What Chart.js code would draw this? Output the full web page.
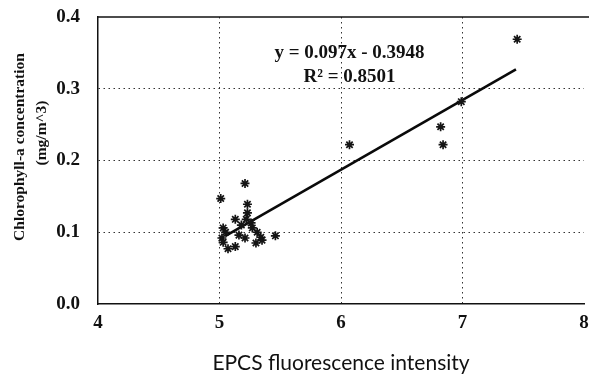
<!DOCTYPE html>
<html>
<head>
<meta charset="utf-8">
<script src="https://cdn.jsdelivr.net/npm/chart.js@4.4.1/dist/chart.umd.min.js"></script>
<style>
  html, body { margin: 0; padding: 0; background: #fff; overflow: hidden; }
  #wrap { width: 600px; height: 376px; }
</style>
</head>
<body>
<div id="wrap"><canvas id="chart" width="600" height="376"></canvas></div>
<script>
// EPCS fluorescence vs chlorophyll-a samples
const epcsX = [5.01, 5.21, 5.13, 5.23, 5.23, 5.22, 5.03, 5.05, 5.02, 5.03, 5.07, 5.13, 5.16,
  5.21, 5.18, 5.26, 5.27, 5.31, 5.34, 5.35, 5.30, 5.46, 6.07, 6.82, 6.84, 6.99, 7.45];
const chlY = [0.147, 0.168, 0.118, 0.139, 0.127, 0.118, 0.106, 0.100, 0.092, 0.086, 0.077, 0.080, 0.096,
  0.092, 0.110, 0.113, 0.106, 0.100, 0.093, 0.089, 0.085, 0.095, 0.222, 0.247, 0.222, 0.282, 0.369];

// linear fit endpoints
const trendX = [5.05, 7.44];
const trendY = [0.095, 0.327];

const xTicks = [4, 5, 6, 7, 8];
const yTicks = [0.0, 0.1, 0.2, 0.3, 0.4];

const fitLabel = "y = 0.097x - 0.3948";
const r2Label = "R\u00B2 = 0.8501";
const yTitle = ["Chlorophyll-a concentration", "(mg/m^3)"];
const xTitle = "EPCS fluorescence intensity";

const serif = "'Liberation Serif', 'Times New Roman', serif";

const extrasPlugin = {
  id: "extras",
  afterDraw(chart) {
    const { ctx, chartArea, scales } = chart;
    ctx.save();
    // top frame line
    ctx.strokeStyle = "#111";
    ctx.lineWidth = 1.5;
    ctx.beginPath();
    ctx.moveTo(chartArea.left, chartArea.top);
    ctx.lineTo(chart.width, chartArea.top);
    ctx.stroke();

    // fit equation
    ctx.fillStyle = "#111";
    ctx.font = "bold 19px " + serif;
    ctx.textAlign = "center";
    ctx.textBaseline = "middle";
    const cx = scales.x.getPixelForValue(6.07);
    ctx.fillText(fitLabel, cx, scales.y.getPixelForValue(0.35));
    ctx.fillText(r2Label, cx, scales.y.getPixelForValue(0.316));

    // y axis title, two rotated lines
    ctx.font = "bold 15.5px " + serif;
    ctx.translate(20, 147);
    ctx.rotate(-Math.PI / 2);
    ctx.fillText(yTitle[0], 0, 0);
    ctx.fillText(yTitle[1], 14, 22);
    ctx.restore();
  },
};

const hideEnds = (vals) => (c) =>
  c.tick && (c.tick.value === vals[0] || c.tick.value === vals[vals.length - 1])
    ? "rgba(0,0,0,0)" : "#333";

new Chart(document.getElementById("chart"), {
  type: "scatter",
  data: {
    datasets: [
      {
        label: "samples",
        data: epcsX.map((x, i) => ({ x, y: chlY[i] })),
        pointStyle: "star",
        radius: 4.5,
        borderWidth: 1.7,
        borderColor: "#151515",
        backgroundColor: "#151515",
      },
      {
        label: "fit",
        type: "line",
        data: trendX.map((x, i) => ({ x, y: trendY[i] })),
        borderColor: "#0a0a0a",
        borderWidth: 2.6,
        pointRadius: 0,
        fill: false,
      },
    ],
  },
  options: {
    responsive: false,
    animation: false,
    layout: { padding: { left: 0, right: 16, top: 17, bottom: 0 } },
    plugins: {
      legend: { display: false },
      tooltip: { enabled: false },
    },
    scales: {
      x: {
        type: "linear",
        min: 4,
        max: 8,
        afterBuildTicks: (s) => { s.ticks = xTicks.map((v) => ({ value: v })); },
        afterFit: (s) => { s.height = 72; s.paddingRight = 0; s.paddingLeft = 0; },
        grid: { color: hideEnds(xTicks), lineWidth: 1, drawTicks: false },
        border: { display: true, color: "#111", width: 1.5, dash: [1.5, 3.5] },
        ticks: {
          padding: 8,
          color: "#111",
          font: { family: serif, size: 19, weight: "bold" },
          callback: (v) => String(v),
        },
        title: {
          display: true,
          text: xTitle,
          color: "#111",
          font: { family: "Lato, 'Open Sans', sans-serif", size: 21 },
          padding: { top: 10, bottom: 0 },
        },
      },
      y: {
        min: 0,
        max: 0.4,
        afterBuildTicks: (s) => { s.ticks = yTicks.map((v) => ({ value: v })); },
        afterFit: (s) => { s.width = 98; s.paddingTop = 0; s.paddingBottom = 0; },
        grid: { color: hideEnds(yTicks), lineWidth: 1, drawTicks: false },
        border: { display: true, color: "#111", width: 1.5, dash: [1.5, 3.5] },
        ticks: {
          padding: 18,
          color: "#111",
          font: { family: serif, size: 19, weight: "bold" },
          callback: (v) => Number(v).toFixed(1),
        },
        title: { display: false },
      },
    },
  },
  plugins: [extrasPlugin],
});
</script>
</body>
</html>
